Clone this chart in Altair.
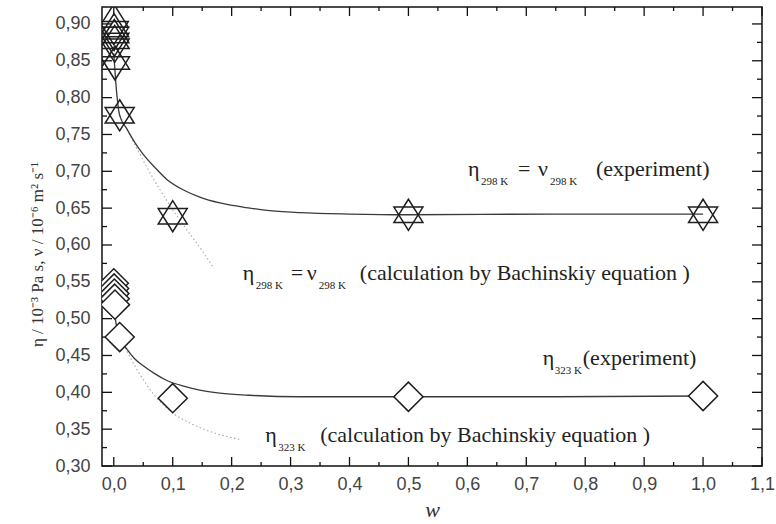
import altair as alt
import pandas as pd

# ---- measured data: mass fraction w vs. viscosity ----
# 298 K: dynamic viscosity (experiment) and kinematic viscosity (Bachinskiy calculation)
w_298 = [0.0, 0.0005, 0.001, 0.0015, 0.002, 0.01, 0.1, 0.5, 1.0]
eta_298_exp = [0.893, 0.885, 0.877, 0.869, 0.845, 0.776, 0.639, 0.641, 0.641]
eta_298_calc = [0.906, 0.893, 0.885, 0.877, 0.849, 0.776, 0.639, 0.641, 0.641]

# 323 K: dynamic viscosity (experiment)
w_323 = [0.0, 0.0005, 0.001, 0.0015, 0.002, 0.01, 0.1, 0.5, 1.0]
eta_323_exp = [0.548, 0.541, 0.534, 0.527, 0.519, 0.475, 0.392, 0.394, 0.395]

# smoothed experimental curves
w_fit_298 = [0.0, 0.004, 0.01, 0.022, 0.035, 0.05, 0.07, 0.09, 0.12, 0.146, 0.18,
             0.231, 0.26, 0.316, 0.4, 0.5, 0.75, 1.0]
eta_298_fit = [0.860, 0.815, 0.776, 0.758, 0.740, 0.723, 0.705, 0.689, 0.674, 0.665, 0.657,
               0.650, 0.647, 0.644, 0.642, 0.641, 0.642, 0.642]
w_fit_323 = [0.0, 0.004, 0.01, 0.022, 0.035, 0.05, 0.07, 0.09, 0.12, 0.146, 0.18,
             0.231, 0.316, 0.4, 0.5, 0.75, 1.0]
eta_323_fit = [0.515, 0.493, 0.475, 0.459, 0.446, 0.436, 0.425, 0.416, 0.408, 0.403, 0.399,
               0.396, 0.394, 0.394, 0.394, 0.394, 0.395]

# Bachinskiy equation curves
w_bach_298 = [0.01, 0.03, 0.06, 0.09, 0.12, 0.15, 0.17]
eta_bach_298 = [0.776, 0.745, 0.700, 0.660, 0.625, 0.592, 0.568]
w_bach_323 = [0.01, 0.04, 0.07, 0.10, 0.13, 0.17, 0.215]
eta_bach_323 = [0.475, 0.430, 0.395, 0.372, 0.358, 0.345, 0.336]

# axis ticks
x_major = [0.0, 0.1, 0.2, 0.3, 0.4, 0.5, 0.6, 0.7, 0.8, 0.9, 1.0, 1.1]
x_minor = [0.05, 0.15, 0.25, 0.35, 0.45, 0.55, 0.65, 0.75, 0.85, 0.95, 1.05]
y_major = [0.30, 0.35, 0.40, 0.45, 0.50, 0.55, 0.60, 0.65, 0.70, 0.75, 0.80, 0.85, 0.90]
y_minor = [0.325, 0.375, 0.425, 0.475, 0.525, 0.575, 0.625, 0.675, 0.725, 0.775, 0.825, 0.875]

W, H = 660, 459
X_DOM = [-0.02, 1.1]
Y_DOM = [0.30, 0.923]

SERIF = "Liberation Serif"
SANS = "Liberation Sans"

xs = alt.Scale(domain=X_DOM, nice=False, zero=False)
ys = alt.Scale(domain=Y_DOM, nice=False, zero=False)

x_axis = alt.Axis(
    values=x_major, labelExpr="replace(format(datum.value, '.1f'), '.', ',')",
    ticks=False, domain=False, grid=False, labelOverlap=False, labelFlush=False,
    labelFont=SANS, labelFontSize=18, labelColor="#444", labelPadding=9,
    title="w", titleFont=SERIF, titleFontStyle="italic", titleFontWeight="normal",
    titleFontSize=22, titleColor="#333", titlePadding=6,
)
y_axis = alt.Axis(
    values=y_major, labelExpr="replace(format(datum.value, '.2f'), '.', ',')",
    ticks=False, domain=False, grid=False, labelOverlap=False, labelFlush=False,
    labelFont=SANS, labelFontSize=18, labelColor="#444", labelPadding=12,
    title="η / 10⁻³ Pa s, ν / 10⁻⁶ m² s⁻¹", titleFont=SERIF, titleFontWeight="normal",
    titleFontSize=17, titleColor="#333", titleAngle=270, titleAlign="center",
    titleBaseline="alphabetic", titleX=-60, titleY=247,
)
X = alt.X("w:Q", scale=xs, axis=x_axis)
Y = alt.Y("eta:Q", scale=ys, axis=y_axis)

# ---- tables ----
pts_298_exp = pd.DataFrame({"w": w_298, "eta": eta_298_exp})
pts_298_calc = pd.DataFrame({"w": w_298, "eta": eta_298_calc})
pts_323 = pd.DataFrame({"w": w_323, "eta": eta_323_exp})

fits = pd.concat([
    pd.DataFrame({"w": w_fit_298, "eta": eta_298_fit, "series": "298"}),
    pd.DataFrame({"w": w_fit_323, "eta": eta_323_fit, "series": "323"}),
])
bach = pd.concat([
    pd.DataFrame({"w": w_bach_298, "eta": eta_bach_298, "series": "298"}),
    pd.DataFrame({"w": w_bach_323, "eta": eta_bach_323, "series": "323"}),
])

tx_major = pd.DataFrame({"w": x_major})
tx_minor = pd.DataFrame({"w": x_minor})
ty_major = pd.DataFrame({"eta": y_major})
ty_minor = pd.DataFrame({"eta": y_minor})

# ---- annotations: anchor (w, eta) plus pixel offsets of each piece ----
DW = (X_DOM[1] - X_DOM[0]) / W
DE = (Y_DOM[1] - Y_DOM[0]) / H
BACH = "(calculation by Bachinskiy equation )"
labels = [
    ((0.601, 0.6936), [("η", 0, 0, "m"), ("298 K", 13, 9, "s"), ("=", 50, 0, "m"),
                       ("ν", 70, 0, "m"), ("298 K", 82, 9, "s"), ("(experiment)", 128, 0, "m")]),
    ((0.219, 0.5525), [("η", 0, 0, "m"), ("298 K", 13, 9, "s"), ("=", 48, 0, "m"),
                       ("ν", 64, 0, "m"), ("298 K", 76, 9, "s"), (BACH, 117, 0, "m")]),
    ((0.728, 0.4370), [("η", 0, 0, "m"), ("323 K", 12, 9, "s"), ("(experiment)", 40, 0, "m")]),
    ((0.257, 0.3326), [("η", 0, 0, "m"), ("323 K", 13, 9, "s"), (BACH, 55, 0, "m")]),
]
rows = []
for (aw, ae), pieces in labels:
    for text, dx, dy, kind in pieces:
        rows.append({"w": aw + dx * DW, "eta": ae - dy * DE, "text": text, "kind": kind})
ann = pd.DataFrame(rows)

# ---- layers ----
fit_lines = alt.Chart(fits).mark_line(
    color="#3a3a3a", strokeWidth=1.3, interpolate="monotone", clip=True
).encode(x=X, y=Y, detail="series:N")

bach_lines = alt.Chart(bach).mark_line(
    color="#a8a8a8", strokeWidth=1.1, strokeDash=[1.5, 2.5], interpolate="monotone", clip=True
).encode(x=X, y=Y, detail="series:N")

TRI_UP = "M0,-1.07L-1,0.53L1,0.53Z"
TRI_DOWN = "M0,1.07L-1,-0.53L1,-0.53Z"

up_pts = alt.Chart(pts_298_calc).mark_point(
    shape=TRI_UP, size=841, filled=False, color="#1e1e1e", strokeWidth=1.5, opacity=1, clip=True
).encode(x=X, y=Y)
down_pts = alt.Chart(pts_298_exp).mark_point(
    shape=TRI_DOWN, size=841, filled=False, color="#1e1e1e", strokeWidth=1.5, opacity=1, clip=True
).encode(x=X, y=Y)
diamonds = alt.Chart(pts_323).mark_point(
    shape="diamond", size=850, filled=True, fill="white", stroke="#1e1e1e",
    strokeWidth=1.5, opacity=1, clip=True
).encode(x=X, y=Y)

# inward ticks on all four sides of the frame
def xticks(df, length):
    bottom = alt.Chart(df).mark_rule(color="#111", strokeWidth=1.3).encode(
        x=X, y=alt.value(H), y2=alt.value(H - length))
    top = alt.Chart(df).mark_rule(color="#111", strokeWidth=1.3).encode(
        x=X, y=alt.value(0), y2=alt.value(length))
    return [bottom, top]

def yticks(df, length):
    left = alt.Chart(df).mark_rule(color="#111", strokeWidth=1.3).encode(
        y=Y, x=alt.value(0), x2=alt.value(length))
    right = alt.Chart(df).mark_rule(color="#111", strokeWidth=1.3).encode(
        y=Y, x=alt.value(W), x2=alt.value(W - length))
    return [left, right]

ticks = xticks(tx_major, 9) + xticks(tx_minor, 4) + yticks(ty_major, 10) + yticks(ty_minor, 5)

main_text = alt.Chart(ann).transform_filter(alt.datum.kind == "m").mark_text(
    align="left", baseline="alphabetic", font=SERIF, fontSize=22, color="#222"
).encode(x=X, y=Y, text="text:N")
sub_text = alt.Chart(ann).transform_filter(alt.datum.kind == "s").mark_text(
    align="left", baseline="alphabetic", font=SERIF, fontSize=11, color="#222"
).encode(x=X, y=Y, text="text:N")

chart = alt.layer(
    bach_lines, fit_lines, *ticks, up_pts, down_pts, diamonds, main_text, sub_text
).properties(
    width=W, height=H,
    autosize=alt.AutoSizeParams(type="none"),
    padding={"left": 102, "top": 7, "right": 14, "bottom": 58},
    background="white",
).configure_view(stroke="#111", strokeWidth=1.5)

chart.save("out.html", embed_options={"renderer": "svg", "actions": False})
